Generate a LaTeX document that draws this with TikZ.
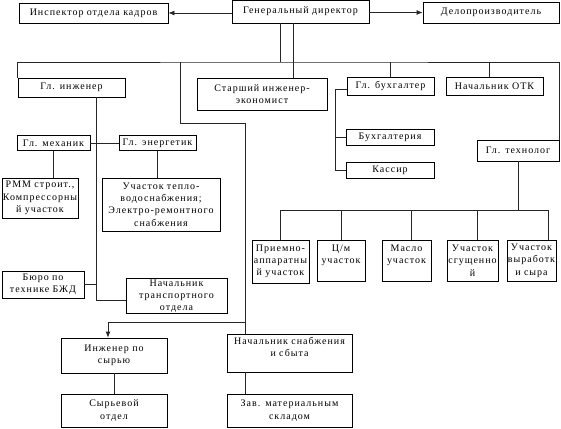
\documentclass[tikz,border=0pt]{standalone}
\usepackage{fontspec}
\setmainfont{Liberation Serif}[LetterSpace=10]
\usetikzlibrary{arrows.meta}

\begin{document}
\begin{tikzpicture}[
  x=1pt, y=-1pt,
  unit/.style={
    draw,
    line width=0.8pt,
    inner sep=0pt,
    align=center,
    font=\fontsize{10}{12.3}\selectfont
  },
  size/.style 2 args={minimum width=#1pt, text width=#1pt, minimum height=#2pt},
  link/.style={draw=black!85, line width=0.8pt},
  arr/.style={link, -{Latex[length=6pt,width=5pt]}}
]
  \useasboundingbox (0,0) rectangle (561,428);

  \node[unit,size={137}{23}] (gendir) at (300.5,11.5) {Генеральный директор};
  \node[unit,size={149}{20}] (insp) at (93.5,13) {Инспектор отдела кадров};
  \node[unit,size={136}{21}] (delo) at (491,12.5) {Делопроизводитель};

  \node[unit,size={107}{19}] (glinzh) at (71.5,87.5) {Гл. инженер};
  \node[unit,size={130}{32}] (starsh) at (262,94) {Старший инженер-\\экономист};
  \node[unit,size={87}{18}] (glbuh) at (390.5,86) {Гл. бухгалтер};
  \node[unit,size={97}{18}] (otk) at (494.5,86) {Начальник ОТК};

  \node[unit,size={73}{15}] (mech) at (53.5,143) {Гл. механик};
  \node[unit,size={77}{15}] (energ) at (157.5,143) {Гл. энергетик};
  \node[unit,size={88}{16}] (bukh) at (390,137) {Бухгалтерия};
  \node[unit,size={88}{16}] (kassir) at (390,170) {Кассир};
  \node[unit,size={82}{21}] (tech) at (518,150.5) {Гл. технолог};

  \node[unit,size={76}{40}] (rmm) at (40,198) {РММ строит.,\\Компрессорны\\й участок};
  \node[unit,size={118}{53}] (teplo) at (161,204.5) {Участок тепло-\\водоснабжения;\\Электро-ремонтного\\снабжения};

  \node[unit,size={57}{43}] (priem) at (280.5,261.5) {Приемно-\\аппаратны\\й участок};
  \node[unit,size={48}{41}] (cm) at (341,260.5) {Ц/м\\участок\\~};
  \node[unit,size={49}{41}] (maslo) at (406.5,260.5) {Масло\\участок\\~};
  \node[unit,size={51}{41}] (sgush) at (472.5,260.5) {Участок\\сгущенно\\й};
  \node[unit,size={49}{41}] (vyrab) at (531.5,260.5) {Участок\\выработк\\и сыра};

  \node[unit,size={82}{27}] (buro) at (43,284.5) {Бюро по\\технике БЖД};
  \node[unit,size={101}{35}] (transp) at (176.5,296) {Начальник\\транспортного\\отдела};
  \node[unit,size={106}{35}] (inzhsyr) at (114,355.5) {Инженер по\\сырью};
  \node[unit,size={106}{33}] (syr) at (114,410.5) {Сырьевой\\отдел};
  \node[unit,size={125}{38}] (snab) at (289.5,353) {Начальник снабжения\\и сбыта\\~};
  \node[unit,size={125}{33}] (zav) at (289.5,410.5) {Зав. материальным\\складом};

  \coordinate (bus) at (300,62);
  \coordinate (drop) at (180,62);
  \coordinate (kink) at (245,123);
  \coordinate (fork) at (245,322);
  \coordinate (tbus) at (518,210);
  \coordinate (spine) at ([xshift=24.5pt]glinzh.south);

  \draw[arr] (gendir.west |- insp.east) -- (insp.east);
  \draw[arr] (gendir.east |- delo.west) -- (delo.west);
  \draw[link] ([xshift=-20.5pt]gendir.south) -- ([xshift=-20.5pt]gendir.south |- bus);
  \draw[link] ([xshift=-7.5pt]gendir.south) -- ([xshift=-7.5pt]gendir.south |- starsh.north);

  \draw[link] (glinzh.north west) |- (bus) -| (tech.north east);
  \draw[link] (glbuh.north |- bus) -- (glbuh.north);
  \draw[link] ([xshift=-5pt]otk.north |- bus) -- ([xshift=-5pt]otk.north);
  \draw[link] (drop) |- (kink) -- (snab.north -| kink);
  \draw[arr] (fork) -| ([xshift=-6pt]inzhsyr.north);

  \draw[link] (spine) |- ([yshift=-4pt]transp.west);
  \draw[link] (buro.east) -- (buro.east -| spine);
  \draw[link] (mech) -- (energ);
  \draw[link] (mech.south) -- (mech.south |- rmm.north);
  \draw[link] (energ.south) -- (energ.south |- teplo.north);

  \draw[link] ([yshift=-3pt]glbuh.west) -- ++(-11,0) |- (kassir.west);
  \draw[link] (bukh.west) -- ++(-10,0);

  \draw[link] (tech.south) -- (tbus);
  \draw[link] (priem.north |- tbus) -- ([xshift=17pt]vyrab.north |- tbus);
  \foreach \n/\dx in {priem/0,cm/0,maslo/5,sgush/5,vyrab/17}
    \draw[link] ([xshift=\dx pt]\n.north |- tbus) -- ([xshift=\dx pt]\n.north);

  \draw[link] (inzhsyr.south) -- (syr.north);
  \draw[link] (snab.south -| kink) -- (zav.north -| kink);
\end{tikzpicture}
\end{document}
